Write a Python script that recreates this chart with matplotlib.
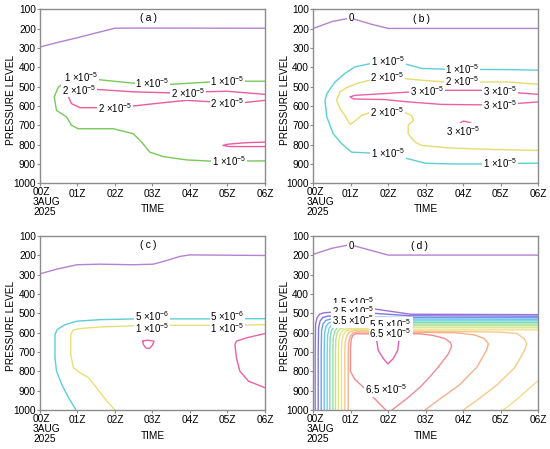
import matplotlib
matplotlib.use('Agg')
import matplotlib.pyplot as plt

plt.rcParams['font.family'] = ['Liberation Sans', 'DejaVu Sans']
plt.rcParams['mathtext.fontset'] = 'custom'
plt.rcParams['mathtext.rm'] = 'Liberation Sans'
plt.rcParams['mathtext.it'] = 'Liberation Sans:italic'
plt.rcParams['mathtext.bf'] = 'Liberation Sans:bold'

# time in hours after 00Z, pressure in hPa
hour_ticks = [0, 1, 2, 3, 4, 5, 6]
hour_labels = ['', '01Z', '02Z', '03Z', '04Z', '05Z', '06Z']
first_label = '00Z\n3AUG\n2025'
p_ticks = [100, 200, 300, 400, 500, 600, 700, 800, 900, 1000]

# ---- panel (a)
a_zero_t = [0, 0.5, 1.0, 1.5, 2.0, 2.5, 6.0]
a_zero_p = [295, 270, 247, 222, 198, 197, 198]
a_c1_t = [6.0, 5.4, 4.53, 3.42, 2.58, 1.51, 1.1, 0.71, 0.49, 0.38, 0.44, 0.71, 0.84, 1.02,
          1.96, 2.49, 2.71, 2.93, 3.29, 3.91, 4.62, 6.0]
a_c1_p = [472, 472, 476, 489, 484, 463, 458, 475, 502, 553, 623, 657, 700, 718,
          718, 744, 787, 839, 862, 879, 886, 884]
a_c2_t = [6.0, 4.98, 4.31, 3.6, 2.49, 1.47, 1.0, 0.8, 0.74, 0.76, 0.84, 1.07, 1.6, 2.4,
          3.2, 3.91, 4.62, 5.33, 6.0]
a_c2_p = [540, 524, 527, 533, 527, 514, 515, 525, 540, 553, 588, 609, 609, 602,
          585, 571, 579, 585, 571]
a_c3_t = [6.0, 5.5, 5.0, 4.88, 5.05, 5.5, 6.0]
a_c3_p = [787, 790, 798, 804, 810, 810, 810]

# ---- panel (b)
b_zero_t = [0, 0.49, 0.93, 1.07, 1.56, 2.0, 6.0]
b_zero_p = [199, 164, 147, 150, 178, 199, 199]
b_c1_t = [6.0, 5.2, 4.35, 3.6, 2.89, 2.4, 2.0, 1.6, 1.11, 0.84, 0.58, 0.36, 0.31, 0.36, 0.53,
          0.76, 1.02, 1.56, 2.0, 2.36, 2.98, 3.69, 4.58, 5.4, 6.0]
b_c1_p = [415, 412, 411, 410, 406, 380, 372, 378, 398, 432, 476, 536, 571, 657, 744,
          796, 839, 844, 852, 865, 896, 900, 900, 897, 896]
b_c2_t = [6.0, 5.2, 4.4, 3.95, 3.51, 2.89, 2.4, 2.0, 1.6, 1.16, 0.89, 0.71, 0.62, 0.71, 0.84,
          0.98, 1.11, 1.29, 1.56, 1.95, 2.4, 2.62, 2.67, 2.53, 2.53, 2.71, 2.89, 3.6, 4.76, 6.0]
b_c2_p = [488, 476, 476, 476, 476, 467, 458, 455, 462, 484, 505, 527, 571, 614, 649,
          695, 678, 649, 631, 631, 631, 649, 674, 700, 744, 787, 804, 817, 825, 830]
b_c3_t = [6.0, 5.38, 4.98, 4.58, 3.51, 3.0, 2.62, 1.91, 1.11, 0.98, 1.07, 1.91, 2.53, 3.42,
          4.31, 4.98, 5.38, 6.0]
b_c3_p = [540, 531, 527, 519, 519, 521, 527, 536, 545, 553, 564, 567, 579, 592,
          594, 593, 588, 579]
b_c4_t = [3.82, 4.0, 4.13, 4.27]
b_c4_p = [700, 678, 683, 695]

# ---- panel (c)
c_zero_t = [0, 0.44, 0.98, 1.6, 2.49, 3.02, 3.38, 3.73, 4.0, 6.0]
c_zero_p = [296, 272, 249, 246, 249, 246, 227, 206, 198, 201]
c_c1_t = [6.0, 5.0, 4.62, 3.38, 2.98, 2.58, 1.6, 0.98, 0.67, 0.46, 0.4, 0.4, 0.44, 0.58, 0.76, 0.96]
c_c1_p = [528, 528, 529, 529, 529, 529, 533, 541, 559, 584, 610, 730, 799, 868, 936, 1000]
c_c2_t = [6.0, 5.0, 3.0, 2.58, 1.6, 1.07, 0.89, 0.82, 0.82, 0.89, 1.07, 1.29, 1.51, 1.78, 2.0]
c_c2_p = [559, 562, 562, 564, 571, 579, 586, 610, 713, 782, 808, 833, 885, 954, 1000]
c_c3_t = [2.74, 2.86, 3.04, 3.0, 2.92, 2.82, 2.76, 2.74]
c_c3_p = [644, 639, 644, 665, 682, 679, 662, 644]
c_c4_t = [6.0, 5.51, 5.24, 5.2, 5.24, 5.33, 5.56, 6.0]
c_c4_p = [605, 627, 644, 662, 730, 799, 851, 885]

# ---- panel (d)
d_zero_t = [0, 0.49, 0.93, 1.07, 2.0, 6.0]
d_zero_p = [195, 164, 147, 150, 199, 199]
d_c05_t = [0.05, 0.05, 0.06, 0.10, 0.17, 0.30, 0.9, 1.6, 2.6, 6.0]
d_c05_p = [1000, 700, 557, 522, 504, 497, 490, 477, 505, 507]
d_c10_t = [0.13, 0.13, 0.14, 0.18, 0.25, 0.38, 1.0, 1.6, 2.6, 6.0]
d_c10_p = [1000, 700, 575, 540, 522, 515, 510, 500, 513, 515]
d_c15_t = [0.21, 0.21, 0.22, 0.26, 0.33, 0.46, 1.0, 1.6, 2.6, 6.0]
d_c15_p = [1000, 700, 590, 555, 537, 530, 527, 520, 522, 523]
d_c20_t = [0.29, 0.29, 0.30, 0.34, 0.41, 0.54, 1.0, 1.6, 2.6, 6.0]
d_c20_p = [1000, 700, 603, 568, 550, 543, 540, 533, 530, 531]
d_c25_t = [0.37, 0.37, 0.38, 0.42, 0.49, 0.62, 1.0, 1.6, 2.6, 6.0]
d_c25_p = [1000, 700, 613, 578, 560, 553, 550, 544, 539, 539]
d_c30_t = [0.44, 0.44, 0.45, 0.49, 0.56, 0.69, 1.0, 1.6, 2.6, 6.0]
d_c30_p = [1000, 700, 621, 586, 568, 561, 559, 553, 547, 547]
d_c35_t = [0.52, 0.52, 0.53, 0.57, 0.64, 0.77, 1.1, 1.6, 2.6, 6.0]
d_c35_p = [1000, 700, 628, 593, 575, 568, 566, 562, 556, 556]
d_c40_t = [0.59, 0.59, 0.60, 0.64, 0.71, 0.84, 1.1, 1.6, 2.6, 6.0]
d_c40_p = [1000, 700, 634, 599, 581, 574, 572, 570, 565, 565]
d_c45_t = [0.67, 0.67, 0.68, 0.72, 0.79, 0.92, 1.2, 1.6, 2.6, 6.0]
d_c45_p = [1000, 700, 640, 605, 587, 580, 578, 577, 575, 575]
d_c50_t = [0.75, 0.75, 0.76, 0.80, 0.87, 1.00, 1.3, 1.6, 2.6, 6.0]
d_c50_p = [1000, 700, 645, 610, 592, 585, 584, 585, 586, 586]
d_c50b_t = [5.07, 5.4, 5.75, 6.0]
d_c50b_p = [1000, 950, 890, 848]
d_c55_t = [0.84, 0.84, 0.85, 0.89, 0.96, 1.09, 1.6, 3.0, 4.5, 5.0, 5.42, 5.62, 5.69, 5.64,
           5.38, 4.9, 4.4, 4.0]
d_c55_p = [1000, 700, 650, 615, 597, 590, 591, 593, 596, 598, 604, 630, 657, 690,
           779, 870, 945, 1000]
d_c60_t = [0.93, 0.93, 0.94, 0.98, 1.05, 1.18, 1.6, 3.0, 3.82, 4.3, 4.55, 4.67, 4.62, 4.36,
           3.9, 3.4, 2.98]
d_c60_p = [1000, 700, 655, 620, 602, 597, 598, 599, 601, 612, 630, 657, 690, 779,
           870, 940, 1000]
d_c65_t = [1.93, 1.8, 1.43, 1.1, 0.99, 0.99, 1.01, 1.05, 1.13, 1.6, 2.5, 2.85, 3.2, 3.5,
           3.65, 3.69, 3.6, 3.33, 3.1, 2.85, 2.5, 2.1]
d_c65_p = [1000, 975, 900, 840, 800, 680, 635, 615, 606, 607, 606, 606, 615, 630,
           650, 670, 710, 779, 830, 882, 940, 1000]
d_c70_t = [1.72, 1.69, 1.73, 1.87, 1.99, 2.13, 2.25, 2.28, 2.25]
d_c70_p = [610, 640, 692, 735, 762, 735, 692, 640, 610]

zero_color = '#b482d2'
d_colors = ['#a070d6', '#7a78e0', '#6f9ded', '#6cc0ef', '#6ed6e0', '#7ad9bf', '#96dea0',
            '#bde48c', '#e0e686', '#f0e08a', '#f7c98a', '#f7b089', '#f48a92', '#ea5bb8']


def sci(m, e):
    return m + ' \u00d710$^{' + e + '}$'


def setup(ax, tag, tag_t, tag_p):
    ax.set_xlim(0, 6)
    ax.set_ylim(1000, 100)
    ax.set_yticks(p_ticks)
    ax.set_xticks(hour_ticks)
    ax.set_xticklabels(hour_labels)
    for s in ax.spines.values():
        s.set_color('#8c8c8c')
        s.set_linewidth(1.0)
    ax.tick_params(direction='out', length=2, width=0.8, color='#8c8c8c',
                   labelsize=7.3, pad=1)
    ax.tick_params(axis='x', pad=2)
    ax.annotate(first_label, xy=(0, 0), xycoords='axes fraction', xytext=(-7, -4),
                textcoords='offset pixels', ha='left', va='top', fontsize=7.3,
                linespacing=1.0)
    ax.text(0.5, -0.15, 'TIME', transform=ax.transAxes, ha='center', va='center', fontsize=7.3)
    ax.text(-0.128, 0.48, 'PRESSURE LEVEL', transform=ax.transAxes, rotation=90,
            ha='center', va='center', fontsize=7.3)
    ax.text(tag_t, tag_p, tag, ha='center', va='center', fontsize=7.5)


def line(ax, t, p, color):
    ax.plot(t, p, color=color, lw=1.0, solid_joinstyle='round', solid_capstyle='round')


def label(ax, t, p, s):
    ax.text(t, p, s, ha='center', va='center', fontsize=7, zorder=5,
            bbox=dict(boxstyle='square,pad=0.08', fc='white', ec='none'))


fig = plt.figure(figsize=(5.5, 4.49), dpi=100)
ax_a = fig.add_axes([0.0727, 0.5918, 0.409, 0.3875])
ax_b = fig.add_axes([0.5697, 0.5918, 0.409, 0.3875])
ax_c = fig.add_axes([0.0727, 0.087, 0.409, 0.3875])
ax_d = fig.add_axes([0.5697, 0.087, 0.409, 0.3875])

# (a)
setup(ax_a, '(\u2009a\u2009)', 2.89, 147)
line(ax_a, a_zero_t, a_zero_p, zero_color)
line(ax_a, a_c1_t, a_c1_p, '#78c85a')
line(ax_a, a_c2_t, a_c2_p, '#ec5aa0')
line(ax_a, a_c3_t, a_c3_p, '#ec5aa0')
for t, p in [(1.1, 452), (3.0, 483), (5.0, 470), (5.05, 884)]:
    label(ax_a, t, p, sci('1', '-5'))
for t, p in [(1.05, 516), (3.95, 531), (2.0, 609), (5.0, 584)]:
    label(ax_a, t, p, sci('2', '-5'))

# (b)
setup(ax_b, '(\u2009b\u2009)', 2.89, 152)
line(ax_b, b_zero_t, b_zero_p, zero_color)
line(ax_b, b_c1_t, b_c1_p, '#5ccfd6')
line(ax_b, b_c2_t, b_c2_p, '#e6dc6e')
line(ax_b, b_c3_t, b_c3_p, '#ee5fa6')
line(ax_b, b_c4_t, b_c4_p, '#ee5fa6')
label(ax_b, 1.0, 147, '0')
for t, p in [(2.0, 370), (3.98, 409), (2.0, 845), (4.98, 898)]:
    label(ax_b, t, p, sci('1', '-5'))
for t, p in [(1.98, 452), (3.96, 474), (1.96, 632)]:
    label(ax_b, t, p, sci('2', '-5'))
for t, p in [(3.04, 521), (4.98, 525), (4.98, 594), (4.0, 730)]:
    label(ax_b, t, p, sci('3', '-5'))

# (c)
setup(ax_c, '(\u2009c\u2009)', 2.89, 146)
line(ax_c, c_zero_t, c_zero_p, zero_color)
line(ax_c, c_c1_t, c_c1_p, '#5ccfd6')
line(ax_c, c_c2_t, c_c2_p, '#e8df7a')
line(ax_c, c_c3_t, c_c3_p, '#ee5fa6')
line(ax_c, c_c4_t, c_c4_p, '#ee5fa6')
for t in [2.98, 5.0]:
    label(ax_c, t, 513, sci('5', '-6'))
    label(ax_c, t, 576, sci('1', '-5'))

# (d)
setup(ax_d, '(\u2009d\u2009)', 2.84, 150)
line(ax_d, d_zero_t, d_zero_p, zero_color)
d_lines = [(d_c05_t, d_c05_p), (d_c10_t, d_c10_p), (d_c15_t, d_c15_p), (d_c20_t, d_c20_p),
           (d_c25_t, d_c25_p), (d_c30_t, d_c30_p), (d_c35_t, d_c35_p), (d_c40_t, d_c40_p),
           (d_c45_t, d_c45_p), (d_c50_t, d_c50_p), (d_c55_t, d_c55_p), (d_c60_t, d_c60_p),
           (d_c65_t, d_c65_p), (d_c70_t, d_c70_p)]
for (t, p), col in zip(d_lines, d_colors):
    line(ax_d, t, p, col)
line(ax_d, d_c50b_t, d_c50b_p, d_colors[9])
label(ax_d, 1.0, 150, '0')
# stacked labels overlap each other in the original figure
label(ax_d, 1.05, 440, sci('1.5', '-5'))
label(ax_d, 1.05, 487, sci('2.5', '-5'))
label(ax_d, 1.05, 534, sci('3.5', '-5'))
label(ax_d, 2.06, 558, sci('5.5', '-5'))
label(ax_d, 2.06, 605, sci('6.5', '-5'))
label(ax_d, 1.95, 891, sci('6.5', '-5'))

fig.savefig('out.png', dpi=100)
